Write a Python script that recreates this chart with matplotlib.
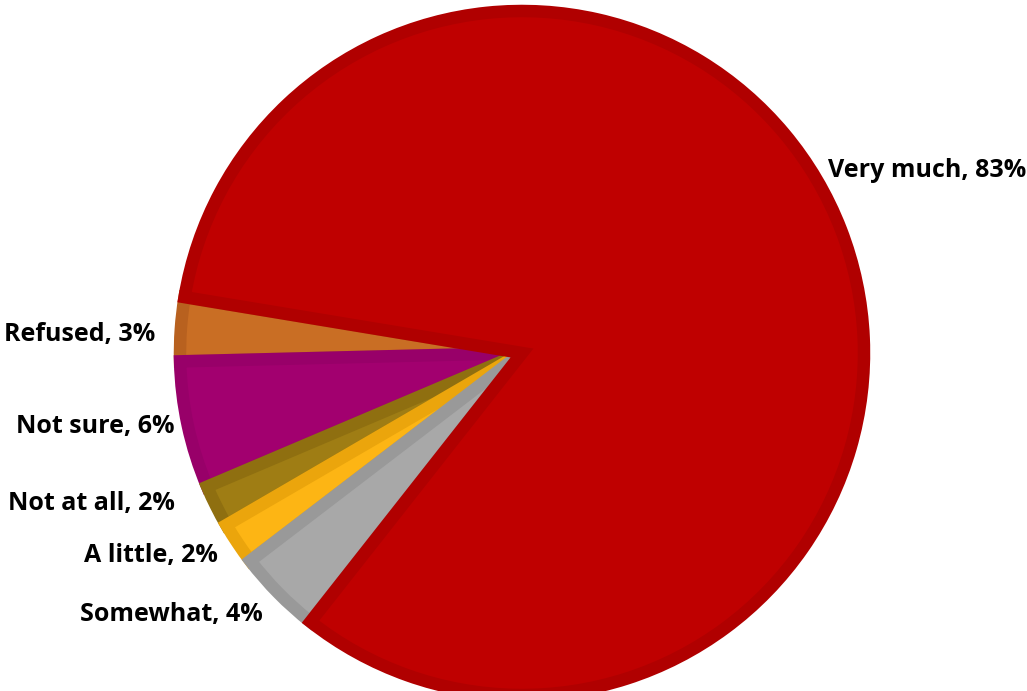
import matplotlib
matplotlib.use("Agg")
import matplotlib.pyplot as plt

# Survey answer shares (percent), listed counter-clockwise from the Refused wedge
categories = ["Refused", "Not sure", "Not at all", "A little", "Somewhat", "Very much"]
shares = [3, 6, 2, 2, 4, 83]
fill_colors = ["#C96E24", "#A2006F", "#9F7D14", "#FDB514", "#A8A8A8", "#BF0000"]
edge_colors = ["#B8611F", "#980069", "#8F6F10", "#EBA50C", "#999999", "#B00000"]
start_angle = 170.6

# label anchors (data units of the pie axes) and alignment
label_pos = {
    "Refused": (-1.073, 0.053, "right"),
    "Not sure": (-1.015, -0.216, "right"),
    "Not at all": (-1.015, -0.439, "right"),
    "A little": (-0.889, -0.591, "right"),
    "Somewhat": (-0.757, -0.766, "right"),
    "Very much": (0.895, 0.535, "left"),
}

W, H = 1027, 691
cx, cy, r = 522, 353, 342

fig = plt.figure(figsize=(W / 100, H / 100), dpi=100)
ax = fig.add_axes([0, 0, 1, 1])

wedges, _ = ax.pie(shares, colors=fill_colors, startangle=start_angle,
                   counterclock=True, radius=1.0,
                   wedgeprops=dict(antialiased=True))
# bevelled rim: a wide stroke clipped to the wedge so only its inner half shows
for w, ec in zip(wedges, edge_colors):
    w.set_edgecolor(ec)
    w.set_linewidth(9)
    w.set_joinstyle("miter")
    w.set_clip_path(w)

ax.set_xlim(-cx / r, (W - cx) / r)
ax.set_ylim(-(H - cy) / r, cy / r)
ax.set_aspect("equal", adjustable="box")
ax.axis("off")

for name, val in zip(categories, shares):
    x, y, ha = label_pos[name]
    ax.text(x, y, f"{name}, {val}%", ha=ha, va="center",
            fontsize=18, fontweight="bold", family="Open Sans", color="black")

fig.savefig("out.png", dpi=100, facecolor="white")
